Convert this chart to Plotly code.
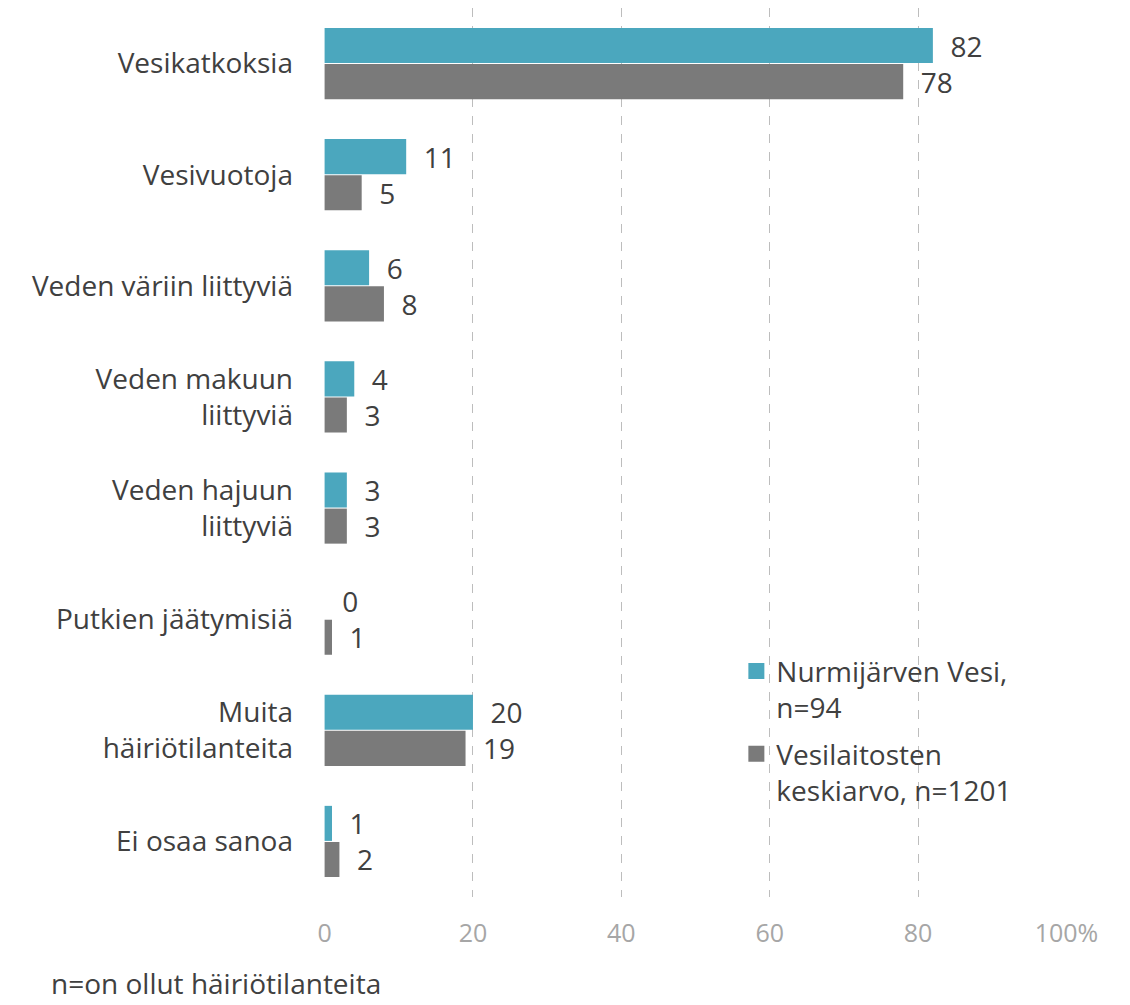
import plotly.graph_objects as go

categories = [
    "Vesikatkoksia",
    "Vesivuotoja",
    "Veden väriin liittyviä",
    "Veden makuun<br>liittyviä",
    "Veden hajuun<br>liittyviä",
    "Putkien jäätymisiä",
    "Muita<br>häiriötilanteita",
    "Ei osaa sanoa",
]
nurmijarvi = [82, 11, 6, 4, 3, 0, 20, 1]
keskiarvo = [78, 5, 8, 3, 3, 1, 19, 2]
series_names = ["Nurmijärven Vesi,<br>n=94", "Vesilaitosten<br>keskiarvo, n=1201"]
tick_vals = [0, 20, 40, 60, 80, 100]
tick_text = ["0", "20", "40", "60", "80", "100%"]

BLUE = "#4BA7BE"
GRAY = "#7A7A7A"
FONT = "Open Sans"
TEXT = "#404040"

fig = go.Figure()
for name, vals, color in [(series_names[0], nurmijarvi, BLUE), (series_names[1], keskiarvo, GRAY)]:
    fig.add_trace(go.Bar(
        y=categories,
        x=vals,
        name=name,
        orientation="h",
        marker=dict(color=color, line=dict(width=0)),
        text=vals,
        texttemplate="  %{text}",
        textposition="outside",
        constraintext="none",
        textfont=dict(family=FONT, size=28, color=TEXT),
        cliponaxis=False,
        showlegend=False,
    ))

# Legend entries with larger square swatches
for i, (name, color) in enumerate([(series_names[0], BLUE), (series_names[1], GRAY)]):
    fig.add_trace(go.Scatter(
        x=[None], y=[None],
        mode="markers",
        name=name,
        legendgroup=f"g{i}",
        marker=dict(symbol="square", size=16, color=color),
        showlegend=True,
    ))

fig.update_layout(
    width=1130,
    height=1005,
    margin=dict(l=324, r=63, t=8, b=108),
    paper_bgcolor="white",
    plot_bgcolor="white",
    barmode="group",
    bargap=0.35,
    bargroupgap=0.03,
    font=dict(family=FONT, color=TEXT),
    showlegend=True,
    legend=dict(
        x=0.555, y=0.282, xanchor="left", yanchor="top",
        font=dict(family=FONT, size=28, color=TEXT),
        bgcolor="rgba(0,0,0,0)",
        tracegroupgap=7,
        valign="top",
    ),
    xaxis=dict(
        range=[-0.08, 100.08],
        tickvals=tick_vals,
        ticktext=tick_text,
        showgrid=True,
        gridcolor="#BDBDBD",
        griddash="dash",
        gridwidth=1,
        zeroline=False,
        showline=False,
        ticks="",
        tickfont=dict(family=FONT, size=25, color="#A6A6A6"),
        ticklabelstandoff=19,
    ),
    yaxis=dict(
        autorange="reversed",
        showgrid=False,
        zeroline=False,
        showline=False,
        ticks="",
        tickfont=dict(family=FONT, size=28, color=TEXT),
        ticklabelstandoff=30,
    ),
)

fig.add_annotation(
    text="n=on ollut häiriötilanteita",
    xref="paper", yref="paper",
    x=-0.37, y=-0.1205, xanchor="left", yanchor="bottom",
    showarrow=False,
    font=dict(family=FONT, size=28, color=TEXT),
)

fig.write_html("out.html")
